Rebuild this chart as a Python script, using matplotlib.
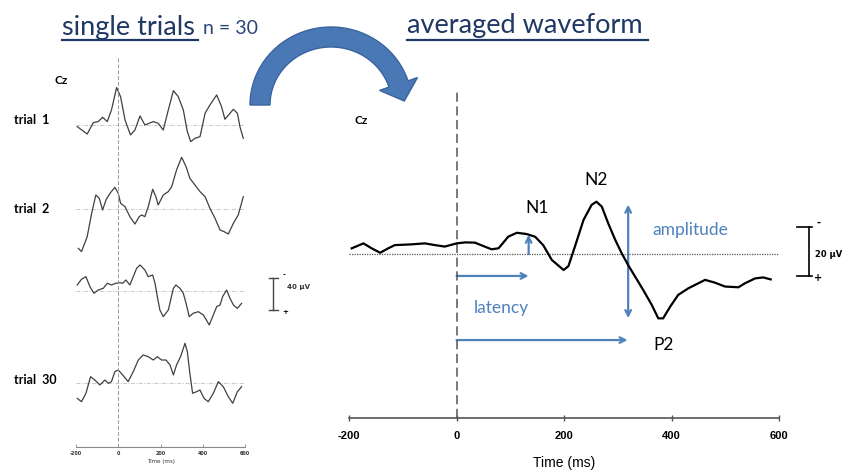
import numpy as np
import matplotlib
matplotlib.use('Agg')
from matplotlib import pyplot as plt
from matplotlib.patches import Polygon, FancyArrowPatch

plt.rcParams['axes.unicode_minus'] = False

#%% DATOS

# single trials (ms, uV; negative up)
t1_ms = [-194, -147, -118, -95, -74, -52, -32, -8, 11, 32, 58, 79, 103, 126, 166, 189, 213, 237,
         261, 284, 308, 327, 343, 363, 387, 411, 434, 466, 489, 505, 529, 545, 564, 576, 592]
t1_uv = [2.1, 11.3, -2.9, -4.2, -9.6, -4.2, -18.8, -46.7, -35.4, -6.3, 12.5, 6.3, -11.3, 0, -4.2,
         -2.1, 6.3, -18.8, -42.9, -35.4, -18.8, 8.3, 20.8, 16.7, 14.6, -14.6, -25, -37.5, -22.9,
         -7.1, -14.6, -19.6, -14.6, 2.1, 16.7]

t2_ms = [-189, -174, -147, -126, -106, -90, -74, -58, -39, -16, 0, 11, 32, 55, 79, 99, 111, 126,
         142, 163, 178, 189, 213, 237, 253, 276, 300, 321, 339, 363, 387, 411, 434, 458, 482, 501,
         521, 545, 568, 592]
t2_uv = [49.2, 53.3, 34.6, 5.4, -17.5, -13.3, 1.3, -11.3, -19.6, -27.1, -19.6, -7.1, -2.9, 9.6,
         18.8, 9.6, 7.5, 9.6, -2.9, -24.6, -15.4, -5, -17.5, -21.7, -27.9, -48.8, -64.6, -52.9,
         -38.3, -30, -21.7, -15.4, -0.8, 11.7, 26.3, 28.3, 31.3, 17.9, 7.5, -15.4]

t3_ms = [-194, -174, -153, -134, -115, -95, -71, -52, -32, -11, 8, 21, 36, 55, 71, 87, 103, 126,
         142, 163, 174, 185, 197, 213, 237, 261, 273, 292, 308, 321, 336, 355, 379, 403, 431, 450,
         466, 482, 494, 513, 529, 545, 564, 584]
t3_uv = [-7.1, -14.2, -17.5, -5, 3.3, -0.8, -2.9, -9.2, -7.1, -9.2, -10, -9.2, -13.3, -7.1, -17.5,
         -27.9, -32.1, -25.8, -17.5, -19.6, -9.2, 7.5, 24.2, 32.5, 24.2, -2.9, -7.1, -2.9, 3.3,
         15.8, 32.5, 28.3, 26.3, 30.4, 42.9, 30.4, 20, 17.9, 7.5, -0.8, 9.6, 17.9, 22.1, 15.8]

t30_ms = [-194, -174, -153, -131, -111, -87, -63, -47, -32, -16, 0, 21, 47, 71, 95, 118, 142, 166,
          185, 205, 226, 245, 261, 276, 295, 316, 327, 339, 352, 371, 387, 406, 426, 450, 474, 497,
          521, 542, 564, 584]
t30_uv = [19.6, 23.8, 13.3, -7.5, -3.3, 2.9, -3.3, 0.8, -1.3, -13.8, -15.8, -9.6, -1.3, -13.8,
          -28.3, -34.6, -32.5, -28.3, -32.5, -28.3, -28.3, -22.1, -9.6, -22.1, -32.5, -49.2, -38.8,
          -11.7, 13.3, 11.3, 9.2, 19.6, 23.8, 13.3, -1.3, 5, 17.5, 25.8, 11.3, 5]

trials = [(t1_ms, t1_uv), (t2_ms, t2_uv), (t3_ms, t3_uv), (t30_ms, t30_uv)]
trial_labels = ['trial  1', 'trial  2', '', 'trial  30']

# averaged waveform
avg_ms = [-195, -173, -158, -142, -127, -115, -84, -59, -40, -22, 0, 16, 34, 50, 65, 78, 96, 112,
          130, 146, 161, 177, 199, 208, 220, 236, 251, 260, 270, 282, 295, 307, 319, 332, 347, 363,
          375, 384, 397, 412, 431, 462, 480, 499, 524, 536, 555, 570, 584]
avg_uv = [-2.3, -4.3, -2.3, -0.5, -2.3, -3.6, -3.9, -4.3, -3.6, -3.0, -4.3, -4.7, -4.6, -3.2, -1.9,
          -2.3, -7.0, -8.6, -8.1, -7.0, -3.6, 2.4, 6.5, 4.9, -3.0, -13.8, -19.9, -21.2, -19.2, -12.4,
          -5.7, -0.3, 4.5, 9.2, 14.6, 20.7, 26.1, 26.1, 21.4, 16.6, 13.9, 10.5, 11.6, 13.2, 13.5,
          11.9, 9.9, 9.5, 10.3]

ticks = [-200, 0, 200, 400, 600]
n1_lat, n1_amp = 134, -7.8
p2_lat = 318
amp_lat, amp_top, amp_bot = 319, -20, 26
scale_left = 40
scale_right = 20

#%% FIGURA

azul = '#4f81bd'
navy = '#1f3864'

fig = plt.figure(figsize=(8.45, 4.70), dpi=100)

# capa de fondo en pixeles
bg = fig.add_axes([0, 0, 1, 1])
bg.set_xlim(0, 845)
bg.set_ylim(470, 0)
bg.axis('off')

bg.text(62, 27, 'single trials', fontsize=19.5, color=navy, family='Lato', va='center', ha='left')
bg.text(203, 29, 'n = 30', fontsize=14, color='#2a4478', family='Lato', va='center', ha='left')
bg.plot([62, 198], [39.5, 39.5], color=navy, lw=1.6)
bg.text(407, 25, 'averaged waveform', fontsize=19.5, color=navy, family='Lato', va='center', ha='left')
bg.plot([407, 648], [39.5, 39.5], color=navy, lw=1.6)

# flecha curva
cx, cy, rx, ry, hw = 331, 105, 71, 68, 10
th = np.radians(np.linspace(180, 18, 60))
outer = np.c_[cx + (rx + hw) * np.cos(th), cy - (ry + hw) * np.sin(th)]
inner = np.c_[cx + (rx - hw) * np.cos(th), cy - (ry - hw) * np.sin(th)]
te = th[-1]
d = np.array([rx * np.sin(te), ry * np.cos(te)])
d = d / np.linalg.norm(d)
nrm = np.array([d[1], -d[0]])
base = np.array([cx + rx * np.cos(te), cy - ry * np.sin(te)])
head = [base + nrm * 20, base + d * 18, base - nrm * 20]
pts = np.vstack([outer, [head[0], head[1], head[2]], inner[::-1]])
bg.add_patch(Polygon(pts, closed=True, facecolor='#4a78b5', edgecolor='#3a649e', lw=1))

bg.text(55, 81, 'Cz', fontsize=8.5, fontweight='bold', family='Lato', va='center')
label_y = [120, 209, 0, 380]
for lab, y in zip(trial_labels, label_y):
    if lab:
        bg.text(14, y, lab, fontsize=9, fontweight='bold', family='Lato', va='center')

#%% SINGLE TRIALS

ax1 = fig.add_axes([76 / 845, (470 - 447.3) / 470, 169 / 845, 389.3 / 470])
offsets = [402.9, 297.9, 195.8, 80.8]
for (ms, uv), off in zip(trials, offsets):
    ax1.hlines(off, -200, 600, color='#c8c8c8', lw=0.7, linestyle=(0, (4, 1.5, 1, 1.5)))
    ax1.plot(ms, off - np.array(uv), color='#404040', lw=0.9, solid_joinstyle='round')
ax1.axvline(0, color='#999999', lw=0.7, linestyle=(0, (4, 2)))
ax1.set_xlim(-200, 600)
ax1.set_ylim(0, 486.6)
for s in ['top', 'right', 'left']:
    ax1.spines[s].set_visible(False)
ax1.spines['bottom'].set_color('#888888')
ax1.spines['bottom'].set_linewidth(0.8)
ax1.set_yticks([])
ax1.set_xticks(ticks)
ax1.tick_params(axis='x', direction='in', length=2, width=0.6, color='#888888',
                labelsize=3.5, pad=2.5, labelcolor='#333333')
for lb in ax1.get_xticklabels():
    lb.set_fontweight('bold')
ax1.set_xlabel('Time (ms)', fontsize=4, labelpad=2.5, color='#333333')

# barra 40 uV
y0 = 171.3
ax1.plot([732, 732], [y0, y0 + scale_left], color='#444444', lw=1, clip_on=False)
ax1.plot([713, 756], [y0, y0], color='#444444', lw=1, clip_on=False)
ax1.plot([713, 756], [y0 + scale_left, y0 + scale_left], color='#444444', lw=1, clip_on=False)
ax1.text(783, 215.4, '-', fontsize=5, fontweight='bold', ha='center', va='center', clip_on=False)
ax1.text(789, 169, '+', fontsize=5, fontweight='bold', ha='center', va='center', clip_on=False)
ax1.text(797, 200.4, '%d µV' % scale_left, fontsize=5, fontweight='bold', va='center',
         color='#333333', clip_on=False)

#%% AVERAGED

ax2 = fig.add_axes([349 / 845, (470 - 418) / 470, 430.3 / 845, 330 / 470])
ax2.set_facecolor('none')
ax2.hlines(0, -200, 600, color='#555555', lw=0.9, linestyle=(0, (1, 1)))
ax2.axvline(0, color='#555555', lw=1.1, linestyle=(0, (6, 3)))
ax2.plot(avg_ms, avg_uv, color='black', lw=1.6, solid_joinstyle='round')
ax2.set_xlim(-200, 600)
ax2.set_ylim(66.5, -67.3)
for s in ['top', 'right', 'left']:
    ax2.spines[s].set_visible(False)
ax2.spines['bottom'].set_color('#555555')
ax2.spines['bottom'].set_linewidth(1.2)
ax2.set_yticks([])
ax2.set_xticks(ticks)
ax2.tick_params(axis='x', direction='inout', length=5, width=1, color='#555555',
                labelsize=8, pad=7)
for lb in ax2.get_xticklabels():
    lb.set_fontweight('bold')
    lb.set_family('Liberation Sans')
ax2.set_xlabel('Time (ms)', fontsize=10, labelpad=11, family='Liberation Sans')

ax2.text(-189, -54.3, 'Cz', fontsize=8.5, fontweight='bold', family='Lato', va='center')
ax2.text(149, -18.6, 'N1', fontsize=12.5, family='Lato', ha='center', va='center')
ax2.text(259, -30, 'N2', fontsize=12.5, family='Lato', ha='center', va='center')
ax2.text(385, 37, 'P2', fontsize=12.5, family='Lato', ha='center', va='center')
ax2.text(364, -9.7, 'amplitude', fontsize=12.5, family='Lato', color=azul, va='center')
ax2.text(32, 21.9, 'latency', fontsize=12.5, family='Lato', color=azul, va='center')

def flecha(a, b, estilo='->'):
    ax2.add_patch(FancyArrowPatch(a, b, arrowstyle=estilo, mutation_scale=10, color=azul,
                                  lw=1.6, shrinkA=0, shrinkB=0))

flecha((n1_lat, 0), (n1_lat, n1_amp))
flecha((0, 8.9), (n1_lat, 8.9))
flecha((amp_lat, amp_bot), (amp_lat, amp_top), '<->')
flecha((0, 34.9), (p2_lat, 34.9))

# barra 20 uV
ax2.plot([655, 655], [-11, -11 + scale_right], color='black', lw=1.2, clip_on=False)
ax2.plot([632, 660], [-11, -11], color='black', lw=1.2, clip_on=False)
ax2.plot([632, 660], [9, 9], color='black', lw=1.2, clip_on=False)
ax2.text(672, -12.7, '-', fontsize=7, fontweight='bold', ha='center', va='center', clip_on=False)
ax2.text(672, 9.8, '+', fontsize=7, fontweight='bold', ha='center', va='center', clip_on=False)
ax2.text(666, 0.4, '%d µV' % scale_right, fontsize=6, fontweight='bold', va='center',
         clip_on=False)

fig.savefig('out.png', dpi=100)
